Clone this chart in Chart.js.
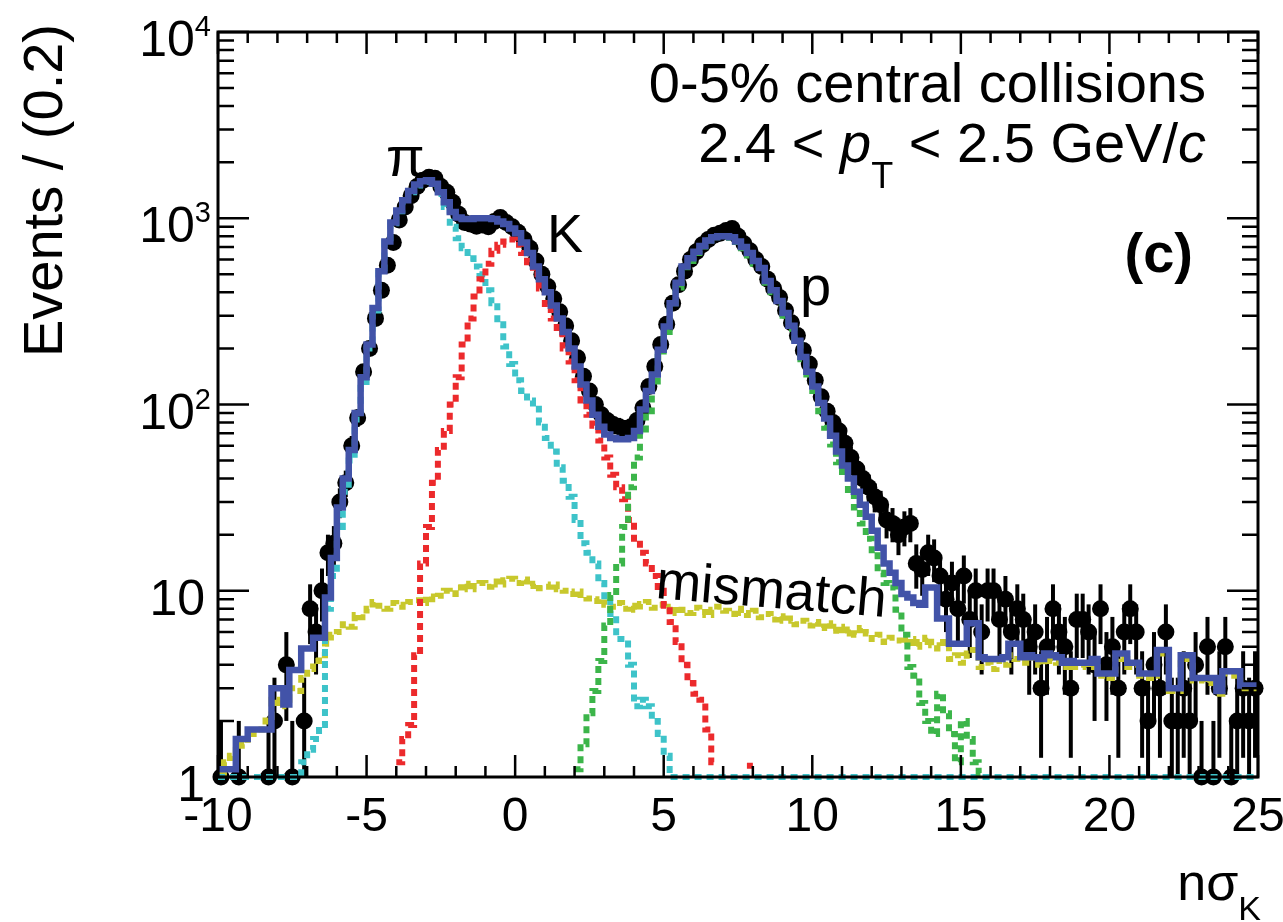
<!DOCTYPE html>
<html>
<head>
<meta charset="utf-8">
<script src="https://cdn.jsdelivr.net/npm/chart.js@4/dist/chart.umd.min.js"></script>
<style>
html, body { margin: 0; padding: 0; background: #fff; }
canvas { display: block; }
</style>
</head>
<body>
<canvas id="nsigmaChart" width="1283" height="922"></canvas>
<script>
// Binning: 175 bins of 0.2 from -10 to 25
const binLow = -10;
const binWidth = 0.2;

// Axis labels
const xTickLabels = [-10, -5, 0, 5, 10, 15, 20, 25];
const yDecades = [0, 1, 2, 3, 4];

// Data counts per bin (0 = empty bin), rows of 10 bins starting at -10, -8, -6 ...
const dataCounts = [
    1, 0, 0, 1, 0, 0, 0, 0, 1, 2,
    0, 4, 1, 0, 2, 8, 6, 10, 16, 18,
    30, 38, 60, 85, 150, 200, 290, 410, 560, 740,
    980, 1150, 1320, 1480, 1600, 1660, 1640, 1480, 1380, 1220,
    1050, 950, 930, 905, 920, 900, 960, 1010, 950, 900,
    840, 770, 690, 590, 500, 430, 370, 315, 265, 220,
    178, 142, 118, 100, 88, 82, 78, 76, 74, 76,
    82, 96, 125, 160, 210, 270, 350, 440, 520, 600,
    660, 720, 770, 810, 830, 860, 880, 800, 730, 670,
    600, 550, 470, 420, 375, 320, 275, 235, 195, 165,
    135, 110, 92, 80, 72, 62, 52, 45, 40, 36,
    32, 29, 24, 23, 20, 22, 23, 14, 13, 16,
    15, 12, 9, 11, 8, 12, 7, 10, 6, 10,
    10, 7, 9, 6, 8, 7, 5, 6, 3, 5,
    8, 6, 5, 3, 7, 7, 6, 4, 8, 4,
    5, 3, 6, 8, 6, 3, 2, 4, 3, 6,
    2, 2, 3, 2, 4, 1, 5, 1, 3, 5,
    1, 2, 3, 2, 3
];

// Total fit (blue)
const totalFit = [
    1.1, 1.1, 1.1, 1.6, 1.6, 1.8, 1.8, 1.8, 1.8, 3.0,
    3.0, 2.45, 3.75, 3.75, 4.9, 4.9, 5.6, 5.6, 9.2, 15,
    28, 40, 57, 90, 140, 210, 330, 520, 750, 950,
    1100, 1250, 1400, 1520, 1580, 1600, 1530, 1380, 1220, 1080,
    1010, 990, 990, 1000, 1000, 1000, 990, 960, 930, 880,
    830, 740, 650, 550, 470, 400, 340, 290, 245, 200,
    160, 128, 105, 88, 76, 69, 66, 65, 65, 66,
    72, 94, 118, 145, 197, 262, 350, 450, 550, 610,
    660, 710, 760, 790, 800, 800, 790, 750, 700, 650,
    590, 540, 460, 410, 360, 310, 265, 220, 180, 150,
    125, 102, 84, 68, 56, 47, 40, 34, 29, 25,
    21, 17, 14, 12.5, 11, 9.6, 9.2, 8.6, 8.4, 10.4,
    10.4, 7.1, 7.1, 5.2, 5.2, 5.2, 6.7, 6.7, 4.4, 4.3,
    4.3, 4.3, 4.4, 5.2, 5.2, 4.4, 4.5, 4.4, 4.3, 4.6,
    4.5, 4.4, 4.1, 4.2, 4.1, 4.1, 4.1, 4.3, 3.6, 3.6,
    3.6, 4.6, 4.6, 4.1, 4.1, 3.6, 3.6, 3.6, 4.8, 4.8,
    3.0, 3.0, 4.5, 4.5, 3.4, 3.4, 3.4, 3.4, 2.9, 3.7,
    3.7, 3.7, 3.1, 3.1, 3.1
];

// Pion template (cyan), 0 = empty bin drawn on the axis floor
const pionFit = [
    0, 0, 0, 0, 0, 0, 0, 0, 0, 0,
    0, 0, 0, 0, 1.2, 1.4, 1.6, 1.9, 8, 12,
    22, 34, 50, 83, 132, 200, 320, 510, 740, 940,
    1090, 1230, 1380, 1500, 1560, 1570, 1490, 1350, 1150, 900,
    780, 690, 610, 550, 500, 410, 350, 270, 205, 165,
    135, 118, 105, 95, 80, 66, 56, 46, 39, 32,
    24, 18, 16, 14, 11, 9, 7.5, 5.5, 5.5, 4,
    2.4, 2.6, 2.4, 2.0, 1.7, 1.3, 0, 0, 0, 0,
    0, 0, 0, 0, 0, 0, 0, 0, 0, 0,
    0, 0, 0, 0, 0, 0, 0, 0, 0, 0,
    0, 0, 0, 0, 0, 0, 0, 0, 0, 0,
    0, 0, 0, 0, 0, 0, 0, 0, 0, 0,
    0, 0, 0, 0, 0, 0, 0, 0, 0, 0,
    0, 0, 0, 0, 0, 0, 0, 0, 0, 0,
    0, 0, 0, 0, 0, 0, 0, 0, 0, 0,
    0, 0, 0, 0, 0, 0, 0, 0, 0, 0,
    0, 0, 0, 0, 0, 0, 0, 0, 0, 0,
    0, 0, 0, 0, 0
];

// Kaon template (red), null = not drawn
const kaonFit = [
    null, null, null, null, null, null, null, null, null, null,
    null, null, null, null, null, null, null, null, null, null,
    null, null, null, null, null, null, null, null, null, null,
    1.2, 1.6, 1.9, 4.5, 14, 22, 38, 57, 72, 100,
    140, 210, 290, 380, 470, 570, 670, 720, 750, 770,
    720, 650, 580, 500, 420, 330, 290, 240, 200, 170,
    135, 105, 88, 77, 64, 52, 42, 36, 31, 24,
    19, 16, 14, 12, 10, 8.3, 6.8, 5.3, 4.0, 3.2,
    2.8, 2.6, 1.8, 1.2, null, null, null, null, null, 1.15,
    null, null, null, null, null, null, null, null, null, null,
    null, null, null, null, null, null, null, null, null, null,
    null, null, null, null, null, null, null, null, null, null,
    null, null, null, null, null, null, null, null, null, null,
    null, null, null, null, null, null, null, null, null, null,
    null, null, null, null, null, null, null, null, null, null,
    null, null, null, null, null, null, null, null, null, null,
    null, null, null, null, null, null, null, null, null, null,
    null, null, null, null, null
];

// Proton template (green)
const protonFit = [
    null, null, null, null, null, null, null, null, null, null,
    null, null, null, null, null, null, null, null, null, null,
    null, null, null, null, null, null, null, null, null, null,
    null, null, null, null, null, null, null, null, null, null,
    null, null, null, null, null, null, null, null, null, null,
    null, null, null, null, null, null, null, null, null, null,
    1.1, 1.5, 2.2, 2.9, 4.2, 6.5, 9.5, 14, 22, 36,
    52, 70, 92, 128, 180, 245, 330, 425, 520, 590,
    650, 705, 760, 790, 800, 795, 785, 745, 690, 630,
    570, 520, 450, 400, 350, 300, 255, 212, 175, 145,
    118, 92, 75, 61, 49, 41, 33, 28, 23, 19,
    15.5, 12.5, 11, 10.4, 7.9, 5.8, 3.9, 3.5, 2.5, 2.0,
    1.7, 2.8, 2.2, 1.7, 1.2, 2.0, 1.6, 1.2, 1.05, null,
    null, null, null, null, null, null, null, null, null, null,
    null, null, null, null, null, null, null, null, null, null,
    null, null, null, null, null, null, null, null, null, null,
    null, null, null, null, null, null, null, null, null, null,
    null, null, null, null, null
];

// Mismatch template (yellow)
const mismatchFit = [
    1.05, 1.2, 1.3, 1.4, 1.5, 1.7, 1.8, 1.8, 2.1, 2.6,
    2.4, 2.6, 3.0, 2.9, 3.4, 3.8, 4.2, 4.5, 5.2, 5.8,
    6.0, 6.6, 6.4, 7.4, 7.2, 8.0, 8.7, 8.3, 8.0, 8.6,
    8.4, 8.2, 8.7, 8.9, 8.6, 9.3, 9.0, 9.4, 10.0, 9.6,
    10.4, 10.9, 10.2, 10.6, 11.0, 10.5, 11.2, 10.8, 11.4, 11.6,
    11.0, 11.5, 10.6, 10.9, 10.3, 10.5, 10.8, 10.2, 10.0, 9.6,
    9.9, 9.5, 9.1, 8.8, 9.0, 8.4, 8.2, 8.6, 8.0, 8.3,
    7.9, 8.5, 8.7, 8.1, 8.4, 7.9, 8.2, 7.6, 7.9, 7.6,
    8.1, 7.7, 7.4, 7.9, 8.2, 7.8, 7.5, 8.0, 7.6, 7.4,
    7.8, 7.2, 7.5, 7.0, 7.3, 6.9, 7.1, 6.6, 6.9, 6.5,
    6.8, 6.3, 6.7, 6.1, 6.4, 5.9, 6.2, 5.8, 6.3, 5.9,
    5.5, 5.8, 5.3, 5.6, 5.4, 5.2, 5.5, 5.0, 5.3, 5.6,
    5.1, 4.9, 5.3, 4.3, 4.5, 4.1, 4.6, 4.8, 3.9, 4.1,
    3.8, 4.2, 4.0, 4.5, 4.3, 4.1, 4.4, 4.2, 4.0, 4.4,
    4.2, 4.1, 3.9, 4.0, 3.9, 4.0, 3.9, 4.1, 3.5, 3.5,
    3.4, 4.4, 4.3, 3.9, 4.0, 3.5, 3.4, 3.5, 4.6, 4.6,
    2.9, 2.9, 4.3, 4.3, 3.3, 3.3, 3.2, 3.3, 2.8, 3.6,
    3.6, 3.5, 3.0, 3.0, 3.0
];

const FONT = '"Liberation Sans", Arial, Helvetica, sans-serif';
const yFloor = 1;

function binEdge(i) {
    return binLow + i * binWidth;
}

// Histogram outline: every bin gives a flat step between its two edges
function histPoints(values) {
    const pts = [];
    values.forEach((v, i) => {
        if (v === null) {
            pts.push({ x: binEdge(i), y: null });
            return;
        }
        const y = v <= 0 ? yFloor : v;
        pts.push({ x: binEdge(i), y: y });
        pts.push({ x: binEdge(i + 1), y: y });
    });
    return pts;
}

function dataPoints(counts) {
    const pts = [];
    counts.forEach((n, i) => {
        if (n > 0) pts.push({ x: binEdge(i) + binWidth / 2, y: n });
    });
    return pts;
}

function templateLine(values, color, order) {
    return {
        type: 'line',
        data: histPoints(values),
        borderColor: color,
        borderWidth: 6,
        borderDash: [7, 5],
        pointRadius: 0,
        fill: false,
        tension: 0,
        clip: false,
        order: order
    };
}

// Draws text made of several runs (normal, italic, sub/superscript)
function drawRich(ctx, runs, x, y, align) {
    let total = 0;
    runs.forEach(r => {
        ctx.font = r.font;
        r.w = ctx.measureText(r.text).width;
        total += r.w;
    });
    let cx = align === 'right' ? x - total : x;
    runs.forEach(r => {
        ctx.font = r.font;
        ctx.fillText(r.text, cx, y + (r.dy || 0));
        cx += r.w;
    });
}

const rootStyle = {
    id: 'rootStyle',
    beforeDatasetsDraw(chart) {
        // Poisson error bars of the data, under everything else
        const ctx = chart.ctx;
        const xs = chart.scales.x;
        const ys = chart.scales.y;
        ctx.save();
        ctx.strokeStyle = '#000';
        ctx.lineWidth = 4;
        dataCounts.forEach((n, i) => {
            if (n <= 0) return;
            const px = xs.getPixelForValue(binEdge(i) + binWidth / 2);
            const err = Math.sqrt(n);
            const lo = Math.max(n - err, yFloor);
            const hi = n + err;
            ctx.beginPath();
            ctx.moveTo(px, ys.getPixelForValue(lo));
            ctx.lineTo(px, ys.getPixelForValue(hi));
            ctx.stroke();
        });
        ctx.restore();
    },
    afterDraw(chart) {
        const ctx = chart.ctx;
        const xs = chart.scales.x;
        const ys = chart.scales.y;
        const area = chart.chartArea;
        ctx.save();
        ctx.strokeStyle = '#000';
        ctx.fillStyle = '#000';

        // frame
        ctx.lineWidth = 3;
        ctx.strokeRect(area.left, area.top, area.right - area.left, area.bottom - area.top);

        // ticks pointing inwards on all four sides
        ctx.lineWidth = 2.5;
        ctx.beginPath();
        for (let k = -10; k <= 25; k++) {
            const px = xs.getPixelForValue(k);
            const len = k % 5 === 0 ? 22 : 11;
            ctx.moveTo(px, area.bottom);
            ctx.lineTo(px, area.bottom - len);
            ctx.moveTo(px, area.top);
            ctx.lineTo(px, area.top + len);
        }
        yDecades.forEach(d => {
            for (let m = 1; m <= 9; m++) {
                const v = m * Math.pow(10, d);
                if (v > 10000) break;
                const py = ys.getPixelForValue(v);
                const len = m === 1 ? 31 : 16;
                ctx.moveTo(area.left, py);
                ctx.lineTo(area.left + len, py);
                ctx.moveTo(area.right, py);
                ctx.lineTo(area.right - len, py);
            }
        });
        ctx.stroke();

        // tick labels
        ctx.textBaseline = 'alphabetic';
        ctx.textAlign = 'center';
        ctx.font = '48px ' + FONT;
        xTickLabels.forEach(v => {
            ctx.fillText(String(v), xs.getPixelForValue(v), 831);
        });
        ctx.textAlign = 'left';
        yDecades.forEach(d => {
            const py = ys.getPixelForValue(Math.pow(10, d));
            let runs;
            if (d === 0) runs = [{ text: '1', font: '50px ' + FONT }];
            else if (d === 1) runs = [{ text: '10', font: '50px ' + FONT }];
            else runs = [
                { text: '10', font: '50px ' + FONT },
                { text: String(d), font: '29px ' + FONT, dy: -20 }
            ];
            drawRich(ctx, runs, d < 2 ? 205 : 211, py + 24, 'right');
        });

        // axis titles
        ctx.save();
        ctx.translate(62, 24);
        ctx.rotate(-Math.PI / 2);
        ctx.textAlign = 'right';
        ctx.font = '56px ' + FONT;
        ctx.fillText('Events / (0.2)', 0, 0);
        ctx.restore();
        ctx.textAlign = 'left';
        drawRich(ctx, [
            { text: 'n\u03c3', font: '52px ' + FONT },
            { text: 'K', font: '34px ' + FONT, dy: 20 }
        ], 1261, 900, 'right');

        // annotations
        ctx.font = '56px ' + FONT;
        ctx.textAlign = 'right';
        ctx.fillText('0-5% central collisions', 1206, 102);
        ctx.textAlign = 'left';
        drawRich(ctx, [
            { text: '2.4 < ', font: '56px ' + FONT },
            { text: 'p', font: 'italic 56px ' + FONT },
            { text: 'T', font: '36px ' + FONT, dy: 26 },
            { text: ' < 2.5 GeV/', font: '56px ' + FONT },
            { text: 'c', font: 'italic 56px ' + FONT }
        ], 1206, 162, 'right');
        ctx.textAlign = 'right';
        ctx.font = 'bold 56px ' + FONT;
        ctx.fillText('(c)', 1193, 272);

        ctx.textAlign = 'left';
        ctx.font = '56px ' + FONT;
        ctx.fillText('\u03c0', 386, 176);
        ctx.font = '54px ' + FONT;
        ctx.fillText('K', 547, 252);
        ctx.font = '56px ' + FONT;
        ctx.fillText('p', 800, 305);

        ctx.save();
        ctx.translate(655, 598);
        ctx.rotate(4.7 * Math.PI / 180);
        ctx.font = '54px ' + FONT;
        ctx.fillText('mismatch', 0, 0);
        ctx.restore();

        ctx.restore();
    }
};

const ctx = document.getElementById('nsigmaChart').getContext('2d');

new Chart(ctx, {
    type: 'line',
    data: {
        datasets: [
            {
                type: 'line',
                data: histPoints(totalFit),
                borderColor: '#4253a8',
                borderWidth: 6.5,
                pointRadius: 0,
                fill: false,
                tension: 0,
                clip: false,
                order: 0
            },
            templateLine(protonFit, '#3cb54a', 1),
            templateLine(kaonFit, '#ec2a2c', 2),
            templateLine(pionFit, '#3ec3c9', 3),
            templateLine(mismatchFit, '#c8c82c', 4),
            {
                type: 'scatter',
                data: dataPoints(dataCounts),
                showLine: false,
                pointRadius: 8.5,
                pointBackgroundColor: '#000',
                pointBorderColor: '#000',
                pointBorderWidth: 0,
                clip: false,
                order: 5
            }
        ]
    },
    options: {
        responsive: false,
        devicePixelRatio: 1,
        animation: false,
        events: [],
        layout: {
            padding: { left: 218, right: 25, top: 32, bottom: 145 }
        },
        plugins: {
            legend: { display: false },
            tooltip: { enabled: false }
        },
        scales: {
            x: { type: 'linear', min: -10, max: 25, display: false },
            y: { type: 'logarithmic', min: 1, max: 10000, display: false }
        }
    },
    plugins: [rootStyle]
});
</script>
</body>
</html>
